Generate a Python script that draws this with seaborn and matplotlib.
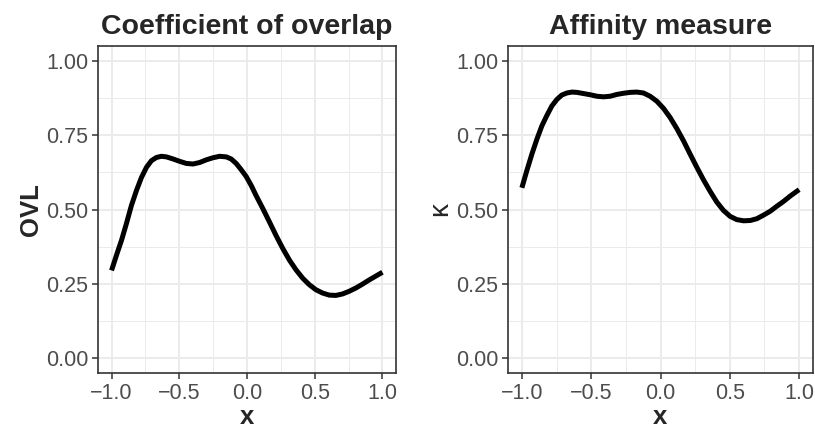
import numpy as np
import pandas as pd
import matplotlib
matplotlib.use("Agg")
import matplotlib.pyplot as plt
from matplotlib.ticker import MultipleLocator
import seaborn as sns

# Coefficient of overlap (OVL) as a function of x
ovl_x = [-1.000, -0.963, -0.926, -0.890, -0.853, -0.816, -0.779, -0.742,
         -0.706, -0.669, -0.632, -0.595, -0.546, -0.497, -0.448, -0.399,
         -0.350, -0.301, -0.252, -0.202, -0.153, -0.117, -0.080, -0.043,
         -0.006, 0.031, 0.067, 0.117, 0.166, 0.215, 0.264, 0.313, 0.362,
         0.411, 0.460, 0.509, 0.558, 0.607, 0.656, 0.706, 0.755, 0.804,
         0.853, 0.902, 0.951, 1.000]
ovl_y = [0.295, 0.347, 0.397, 0.453, 0.514, 0.564, 0.608, 0.642,
         0.664, 0.675, 0.679, 0.677, 0.670, 0.662, 0.655, 0.653,
         0.658, 0.667, 0.674, 0.679, 0.677, 0.670, 0.655, 0.634,
         0.611, 0.581, 0.547, 0.503, 0.458, 0.412, 0.369, 0.330, 0.297,
         0.269, 0.247, 0.230, 0.219, 0.212, 0.211, 0.216, 0.225, 0.236,
         0.249, 0.263, 0.276, 0.289]

# Affinity measure (kappa) as a function of x
aff_x = [-1.000, -0.964, -0.928, -0.892, -0.856, -0.820, -0.784, -0.748,
         -0.712, -0.675, -0.639, -0.603, -0.555, -0.507, -0.459, -0.411,
         -0.363, -0.315, -0.267, -0.219, -0.171, -0.123, -0.075, -0.026,
         0.022, 0.070, 0.118, 0.166, 0.214, 0.262, 0.310, 0.358, 0.406,
         0.454, 0.502, 0.550, 0.599, 0.647, 0.695, 0.743, 0.791, 0.839,
         0.887, 0.935, 1.000]
aff_y = [0.573, 0.631, 0.686, 0.736, 0.781, 0.816, 0.848, 0.870,
         0.885, 0.892, 0.895, 0.894, 0.890, 0.886, 0.881, 0.879,
         0.881, 0.887, 0.891, 0.894, 0.895, 0.892, 0.881, 0.864,
         0.840, 0.809, 0.772, 0.731, 0.686, 0.642, 0.600, 0.561, 0.525,
         0.497, 0.477, 0.466, 0.462, 0.463, 0.469, 0.481, 0.494, 0.511,
         0.527, 0.545, 0.567]

x_ticks = [-1.0, -0.5, 0.0, 0.5, 1.0]
y_ticks = [0.00, 0.25, 0.50, 0.75, 1.00]
titles = ["Coefficient of overlap", "Affinity measure"]
y_labels = ["OVL", "κ"]

sns.set_theme(style="whitegrid")
plt.rcParams["font.family"] = ["Liberation Sans", "DejaVu Sans"]

fig = plt.figure(figsize=(8.15, 4.37), dpi=100)
W, H = 815, 437
boxes = [(98, 396), (508, 813)]
top_px, bot_px = 46, 373

panels = [(ovl_x, ovl_y), (aff_x, aff_y)]
for i, ((l, r), (xs, ys)) in enumerate(zip(boxes, panels)):
    ax = fig.add_axes([l / W, 1 - bot_px / H, (r - l) / W, (bot_px - top_px) / H])
    df = pd.DataFrame({"x": xs, "y": ys})
    ax.set_axisbelow(True)
    sns.lineplot(data=df, x="x", y="y", ax=ax, color="black", linewidth=3.6,
                 solid_capstyle="butt", solid_joinstyle="round")
    ax.set_xlim(-1.1, 1.1)
    ax.set_ylim(-0.05, 1.05)
    ax.set_xticks(x_ticks)
    ax.set_yticks(y_ticks)
    ax.set_xticklabels([f"{v:.1f}".replace("-", "\u2212") for v in x_ticks])
    ax.set_yticklabels([f"{v:.2f}" for v in y_ticks])
    ax.xaxis.set_minor_locator(MultipleLocator(0.25))
    ax.yaxis.set_minor_locator(MultipleLocator(0.125))
    ax.grid(which="major", color="#EBEBEB", linewidth=1.4)
    ax.grid(which="minor", color="#EBEBEB", linewidth=0.7)
    ax.set_facecolor("white")
    for s in ax.spines.values():
        s.set_color("#333333")
        s.set_linewidth(1.2)
        s.set_visible(True)
    ax.tick_params(which="major", length=4.5, width=1.1, color="#333333",
                   labelsize=15.5, labelcolor="#4D4D4D", pad=2.5,
                   bottom=True, left=True)
    ax.tick_params(which="minor", length=0, bottom=False, left=False)
    ax.set_title(titles[i], fontsize=20.5, fontweight="bold", pad=9)
    ax.set_xlabel("x", fontsize=18.5, fontweight="bold", labelpad=1)
    if i == 0:
        ax.set_ylabel(y_labels[i], fontsize=18.5, fontweight="bold", labelpad=2)
    else:
        ax.set_ylabel(y_labels[i], fontsize=20, labelpad=2)

fig.savefig("out.png", dpi=100, facecolor="white")
